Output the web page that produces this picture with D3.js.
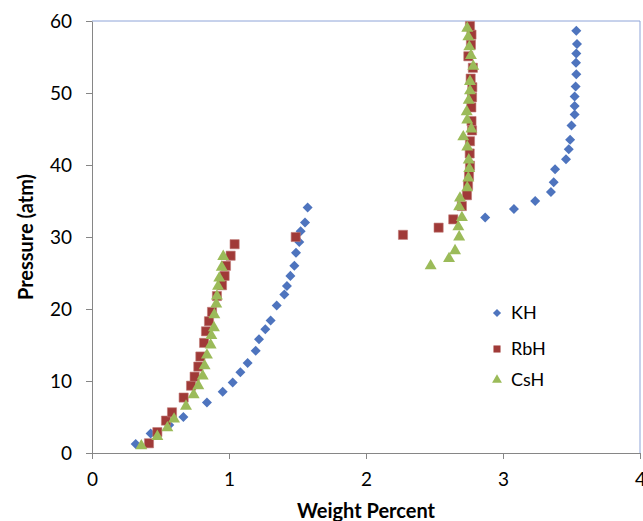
<!DOCTYPE html>
<html><head><meta charset="utf-8">
<script src="https://cdn.jsdelivr.net/npm/d3@7"></script>
<style>body{margin:0;background:#fff}svg{display:block}text{font-family:Lato,"Open Sans",sans-serif}</style>
</head><body>
<svg id="c" width="643" height="521"></svg>
<script>
const seriesNames = ["KH","RbH","CsH"];
const khX = [0.319,0.428,0.564,0.667,0.839,0.954,1.027,1.083,1.136,1.195,1.219,1.265,1.304,1.348,1.404,1.423,1.448,1.477,1.489,1.513,1.523,1.555,1.574,
  2.87,3.08,3.235,3.35,3.37,3.38,3.46,3.48,3.49,3.50,3.523,3.523,3.523,3.53,3.535,3.533,3.535,3.54,3.535];
const khY = [1.25,2.7,3.9,5.0,7.0,8.5,9.8,11.2,12.5,14.2,15.8,17.2,18.4,20.5,22.0,23.2,24.6,26.0,27.8,29.3,30.8,32.0,34.1,
  32.7,33.9,35.0,36.25,37.6,39.4,40.8,42.2,43.5,45.5,47.0,48.2,49.5,50.9,52.6,54.2,55.5,56.8,58.65];
const rbX = [0.416,0.477,0.540,0.584,0.669,0.723,0.749,0.776,0.791,0.818,0.832,0.854,0.876,0.912,0.949,0.968,0.978,1.012,1.041,1.487,
  2.27,2.53,2.637,2.70,2.737,2.745,2.752,2.759,2.757,2.759,2.774,2.77,2.769,2.774,2.776,2.764,2.78,2.747,2.766,2.77,2.759];
const rbY = [1.35,2.9,4.5,5.65,7.7,9.35,10.6,12.0,13.4,15.3,16.9,18.3,19.6,21.8,23.3,24.6,26.0,27.4,29.0,30.0,
  30.3,31.3,32.45,34.3,35.8,37.2,38.5,39.9,41.6,43.3,44.8,46.1,48.0,49.4,50.8,52.0,53.5,55.1,56.7,58.1,59.3];
const csX = [0.36,0.477,0.55,0.599,0.686,0.742,0.776,0.808,0.822,0.839,0.866,0.871,0.89,0.893,0.907,0.912,0.92,0.929,0.947,0.958,
  2.472,2.606,2.65,2.68,2.674,2.70,2.68,2.686,2.739,2.747,2.754,2.75,2.739,2.71,2.769,2.739,2.735,2.75,2.759,2.759,2.783,2.766,2.754,2.747,2.739];
const csY = [1.0,2.3,3.5,4.7,6.5,8.1,9.35,10.7,12.1,13.6,15.0,16.3,17.4,19.2,20.7,21.8,23.15,24.3,25.8,27.3,
  26.0,27.0,28.1,30.0,31.4,32.7,34.2,35.4,36.85,38.2,39.5,40.7,42.5,43.9,45.0,46.25,47.4,49.0,50.3,51.6,53.7,55.2,56.4,57.8,59.0];
const xTicks = [0,1,2,3,4];
const yTicks = [0,10,20,30,40,50,60];
const xTitle = "Weight Percent";
const yTitle = "Pressure (atm)";

const svg = d3.select("#c");
const x = d3.scaleLinear().domain([0,4]).range([92,640]);
const y = d3.scaleLinear().domain([0,60]).range([453,21]);
const axisColor = "#868686";
const font = "Lato,'Open Sans',sans-serif";

svg.append("line").attr("x1",x(0)).attr("x2",x(4)).attr("y1",y(60)).attr("y2",y(60)).attr("stroke","#8EA4D8").attr("stroke-width",1);
svg.append("line").attr("x1",x(4)).attr("x2",x(4)).attr("y1",y(60)).attr("y2",y(0)).attr("stroke","#8EA4D8").attr("stroke-width",1);

const gx = svg.append("g").attr("transform",`translate(0,${y(0)})`)
  .call(d3.axisBottom(x).tickValues(xTicks).tickFormat(d3.format("d")).tickSize(6).tickSizeOuter(0));
const gy = svg.append("g").attr("transform",`translate(${x(0)},0)`)
  .call(d3.axisLeft(y).tickValues(yTicks).tickFormat(d3.format("d")).tickSize(6).tickSizeOuter(0));
[gx,gy].forEach(g=>{
  g.select(".domain").attr("stroke",axisColor);
  g.selectAll(".tick line").attr("stroke",axisColor);
  g.selectAll(".tick text").attr("fill","#000").style("font-size","19px").style("font-family",font);
});
gx.selectAll(".tick text").attr("y",16).attr("dy","0.9em");
gy.selectAll(".tick text").attr("x",-20).attr("dy","0.35em");

svg.append("text").attr("x",366).attr("y",518).attr("text-anchor","middle")
  .style("font-size","20px").style("font-weight","bold").text(xTitle);
svg.append("text").attr("transform","translate(33,237) rotate(-90)").attr("text-anchor","middle")
  .style("font-size","20px").style("font-weight","bold").text(yTitle);

const sym = {
  KH: d3.symbol().type(d3.symbolDiamond2).size(64),
  RbH: d3.symbol().type(d3.symbolSquare).size(84),
  CsH: d3.symbol().type(d3.symbolTriangle).size(62)
};
const colors = {KH:"#4E74BE", RbH:"#A03A38", CsH:"#9BBB59"};
const data = {
  KH: khX.map((v,i)=>[v,khY[i]]),
  RbH: rbX.map((v,i)=>[v,rbY[i]]),
  CsH: csX.map((v,i)=>[v,csY[i]])
};
seriesNames.forEach(n=>{
  svg.append("g").selectAll("path").data(data[n]).join("path")
    .attr("d",sym[n]())
    .attr("transform",d=>`translate(${x(d[0])},${y(d[1])})`)
    .attr("fill",colors[n])
    .attr("stroke", n==="RbH" ? "#C07876" : "none")
    .attr("stroke-width",0.6);
});

const legY = [313,349,380];
const leg = svg.append("g");
seriesNames.forEach((n,i)=>{
  leg.append("path").attr("d",d3.symbol().type(n==="KH"?d3.symbolDiamond2:n==="RbH"?d3.symbolSquare:d3.symbolTriangle).size(n==="RbH"?50:42)())
    .attr("transform",`translate(497,${legY[i]})`).attr("fill",colors[n]);
  leg.append("text").attr("x",511).attr("y",legY[i]).attr("dy","0.35em").style("font-size","18px").text(n);
});
</script>
</body></html>
